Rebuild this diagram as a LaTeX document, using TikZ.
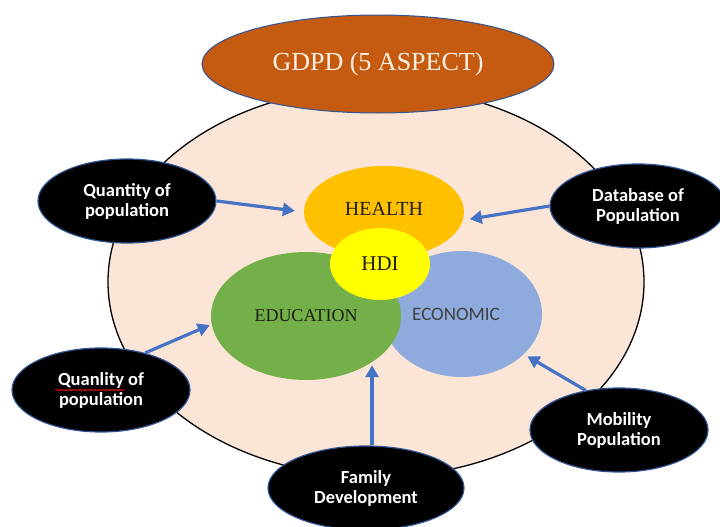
\documentclass[tikz,border=0pt]{standalone}
\usepackage{fontspec}
\setmainfont{Liberation Serif}
\newfontfamily\calib{Carlito}
\usetikzlibrary{shapes.geometric,arrows.meta,calc,decorations.pathmorphing}
\definecolor{peach}{HTML}{FBE5D6}
\definecolor{rust}{HTML}{C55A11}
\definecolor{gold}{HTML}{FFC000}
\definecolor{leaf}{HTML}{74B04A}
\definecolor{sky}{HTML}{8FAADC}
\definecolor{hdiyellow}{HTML}{FFFF00}
\definecolor{arrowblue}{HTML}{4472C4}
\definecolor{rim}{HTML}{2F5597}
\definecolor{ink}{HTML}{1E1E14}
\begin{document}
\begin{tikzpicture}[x=1pt,y=-1pt,
  oval/.style={ellipse, inner sep=0pt, align=center},
  blackoval/.style={oval, fill=black, draw=rim, line width=1.2pt, minimum width=178pt, minimum height=84pt, text=white, font=\calib\bfseries\fontsize{18.5}{20}\selectfont},
  inner/.style={oval, text=ink, font=\fontsize{20}{22}\selectfont},
  arr/.style={draw=arrowblue, line width=3.2pt, -{Triangle[length=12pt,width=13pt]}}]
\useasboundingbox (0,0) rectangle (720,527);
\clip (0,0) rectangle (720,527);
\node[oval, fill=peach, draw=black, line width=1.3pt, minimum width=536pt, minimum height=390pt] (outer) at (376,282) {};
\node[oval, fill=rust, draw=rim, line width=1pt, minimum width=352pt, minimum height=98pt, text=white!90!orange, font=\fontsize{26}{30}\selectfont] (gdpd) at (378,64) {GDPD (5 ASPECT)};
\node[blackoval] (q1) at (127,201) {Quantity of\\population};
\node[blackoval] (q2) at (101,390) {Quanlity of\\population};
\node[blackoval, minimum width=176pt] (db) at (638,206) {Database of\\Population};
\node[blackoval] (mob) at (619,430) {Mobility\\Population};
\node[blackoval, minimum width=196pt] (fam) at (366,488) {Family\\Development};
\node[inner, fill=gold, minimum width=160pt, minimum height=92pt] (health) at (384,212) {\raisebox{7pt}{HEALTH}};
\node[inner, fill=sky, minimum width=160pt, minimum height=126pt, text=black!75, font=\calib\fontsize{19}{22}\selectfont] (eco) at (462,314) {ECONOMIC\hspace{12pt}};
\node[inner, fill=leaf, minimum width=190pt, minimum height=128pt, font=\fontsize{18}{22}\selectfont] (edu) at (306,316) {EDUCATION};
\node[inner, fill=hdiyellow, minimum width=100pt, minimum height=72pt, font=\fontsize{21}{22}\selectfont] (hdi) at (380,264) {HDI};
\draw[red, line width=0.6pt, decorate, decoration={snake, amplitude=0.7pt, segment length=2.5pt}] ($(q2.center)+(-46,0)$) -- ($(q2.center)+(24,0)$);
\draw[arr, shorten >=9pt] (q1.east) -- (health.west);
\draw[arr, shorten >=2pt] (q2.40) -- (edu.185);
\draw[arr, shorten >=7pt] (db.west) -- (health.-6);
\draw[arr, shorten >=4pt] (mob.130) -- (eco.-33);
\draw[arr, shorten >=3pt] (edu.-35 |- fam.north) -- (edu.-35);
\end{tikzpicture}
\end{document}
